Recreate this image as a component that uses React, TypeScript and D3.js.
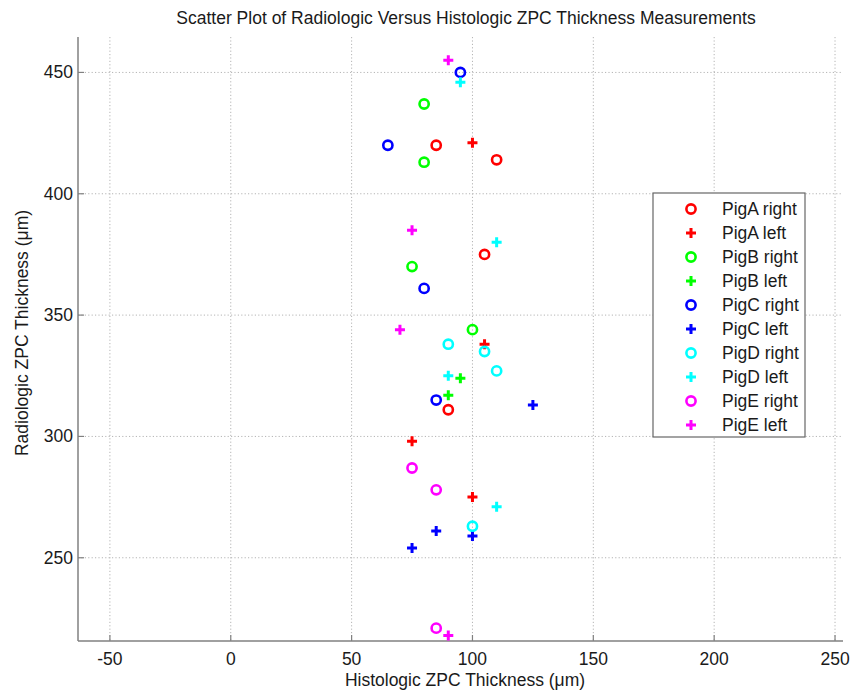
import React from 'react';
import * as d3 from 'd3';

interface Pt {
  x: number;
  y: number;
}

// histologic (x) vs radiologic (y) thickness
const pigARight: Pt[] = [
  { x: 85, y: 420 },
  { x: 110, y: 414 },
  { x: 105, y: 375 },
  { x: 90, y: 311 },
];
const pigALeft: Pt[] = [
  { x: 100, y: 421 },
  { x: 105, y: 338 },
  { x: 75, y: 298 },
  { x: 100, y: 275 },
];
const pigBRight: Pt[] = [
  { x: 80, y: 437 },
  { x: 80, y: 413 },
  { x: 75, y: 370 },
  { x: 100, y: 344 },
];
const pigBLeft: Pt[] = [
  { x: 95, y: 324 },
  { x: 90, y: 317 },
];
const pigCRight: Pt[] = [
  { x: 95, y: 450 },
  { x: 65, y: 420 },
  { x: 80, y: 361 },
  { x: 85, y: 315 },
];
const pigCLeft: Pt[] = [
  { x: 125, y: 313 },
  { x: 85, y: 261 },
  { x: 100, y: 259 },
  { x: 75, y: 254 },
];
const pigDRight: Pt[] = [
  { x: 90, y: 338 },
  { x: 105, y: 335 },
  { x: 110, y: 327 },
  { x: 100, y: 263 },
];
const pigDLeft: Pt[] = [
  { x: 95, y: 446 },
  { x: 110, y: 380 },
  { x: 90, y: 325 },
  { x: 110, y: 271 },
];
const pigERight: Pt[] = [
  { x: 75, y: 287 },
  { x: 85, y: 278 },
  { x: 85, y: 221 },
];
const pigELeft: Pt[] = [
  { x: 90, y: 455 },
  { x: 75, y: 385 },
  { x: 70, y: 344 },
  { x: 90, y: 218 },
];

const xTicks = [-50, 0, 50, 100, 150, 200, 250];
const yTicks = [250, 300, 350, 400, 450];

const series = [
  { name: 'PigA right', color: '#ff0000', shape: 'o', data: pigARight },
  { name: 'PigA left', color: '#ff0000', shape: '+', data: pigALeft },
  { name: 'PigB right', color: '#00ff00', shape: 'o', data: pigBRight },
  { name: 'PigB left', color: '#00ff00', shape: '+', data: pigBLeft },
  { name: 'PigC right', color: '#0000ff', shape: 'o', data: pigCRight },
  { name: 'PigC left', color: '#0000ff', shape: '+', data: pigCLeft },
  { name: 'PigD right', color: '#00ffff', shape: 'o', data: pigDRight },
  { name: 'PigD left', color: '#00ffff', shape: '+', data: pigDLeft },
  { name: 'PigE right', color: '#ff00ff', shape: 'o', data: pigERight },
  { name: 'PigE left', color: '#ff00ff', shape: '+', data: pigELeft },
];

const Marker = ({ shape, color, cx, cy }: { shape: string; color: string; cx: number; cy: number }) =>
  shape === 'o' ? (
    <circle cx={cx} cy={cy} r={4.6} fill="none" stroke={color} strokeWidth={2.6} />
  ) : (
    <path
      d={`M${cx - 5},${cy}H${cx + 5}M${cx},${cy - 5}V${cy + 5}`}
      stroke={color}
      strokeWidth={3}
      fill="none"
    />
  );

const App = () => {
  const width = 862;
  const height = 691;
  const left = 78;
  const right = 843;
  const top = 37;
  const bottom = 641;

  const x = d3.scaleLinear().domain([-63.2, 253.3]).range([left, right]);
  const y = d3.scaleLinear().domain([215.7, 464.6]).range([bottom, top]);

  const font = '"Liberation Sans", Arial, sans-serif';
  const fs = 17.5;
  const axisColor = '#808080';
  const gridColor = '#b4b4b4';

  return (
    <svg
      width={width}
      height={height}
      style={{ position: 'absolute', left: 0, top: 0, background: '#fff' }}
      fontFamily={font}
    >
      {/* grid */}
      {xTicks.map((t) => (
        <line key={'gx' + t} x1={x(t)} x2={x(t)} y1={top} y2={bottom} stroke={gridColor} strokeDasharray="1.2,2.2" />
      ))}
      {yTicks.map((t) => (
        <line key={'gy' + t} x1={left} x2={right} y1={y(t)} y2={y(t)} stroke={gridColor} strokeDasharray="1.2,2.2" />
      ))}

      {/* axes */}
      <line x1={left} x2={left} y1={top} y2={bottom} stroke={axisColor} strokeWidth={1.5} />
      <line x1={left} x2={right} y1={bottom} y2={bottom} stroke={axisColor} strokeWidth={1.5} />
      {xTicks.map((t) => (
        <g key={'tx' + t}>
          <line x1={x(t)} x2={x(t)} y1={bottom} y2={bottom - 6} stroke={axisColor} strokeWidth={1.2} />
          <text x={x(t)} y={bottom + 24} textAnchor="middle" fontSize={fs} fill="#1a1a1a">
            {t}
          </text>
        </g>
      ))}
      {yTicks.map((t) => (
        <g key={'ty' + t}>
          <line x1={left} x2={left + 6} y1={y(t)} y2={y(t)} stroke={axisColor} strokeWidth={1.2} />
          <text x={left - 5} y={y(t) + 6} textAnchor="end" fontSize={fs} fill="#1a1a1a">
            {t}
          </text>
        </g>
      ))}

      {/* titles */}
      <text x={466} y={24} textAnchor="middle" fontSize={17.5} fill="#1a1a1a">
        Scatter Plot of Radiologic Versus Histologic ZPC Thickness Measurements
      </text>
      <text x={465} y={686} textAnchor="middle" fontSize={fs} fill="#1a1a1a">
        Histologic ZPC Thickness (μm)
      </text>
      <text
        transform="translate(28,333) rotate(-90)"
        textAnchor="middle"
        fontSize={fs}
        fill="#1a1a1a"
      >
        Radiologic ZPC Thickness (μm)
      </text>

      {/* points */}
      {series.map((s) =>
        s.data.map((d, i) => (
          <Marker key={s.name + i} shape={s.shape} color={s.color} cx={x(d.x)} cy={y(d.y)} />
        ))
      )}

      {/* legend */}
      <rect x={653} y={193} width={152} height={244} fill="#fff" stroke="#666" strokeWidth={1.2} />
      {series.map((s, i) => (
        <g key={'lg' + s.name} transform={`translate(0,${209 + i * 24})`}>
          <Marker shape={s.shape} color={s.color} cx={691} cy={0} />
          <text x={722} y={6} fontSize={fs} fill="#1a1a1a">
            {s.name}
          </text>
        </g>
      ))}
    </svg>
  );
};

export default App;
